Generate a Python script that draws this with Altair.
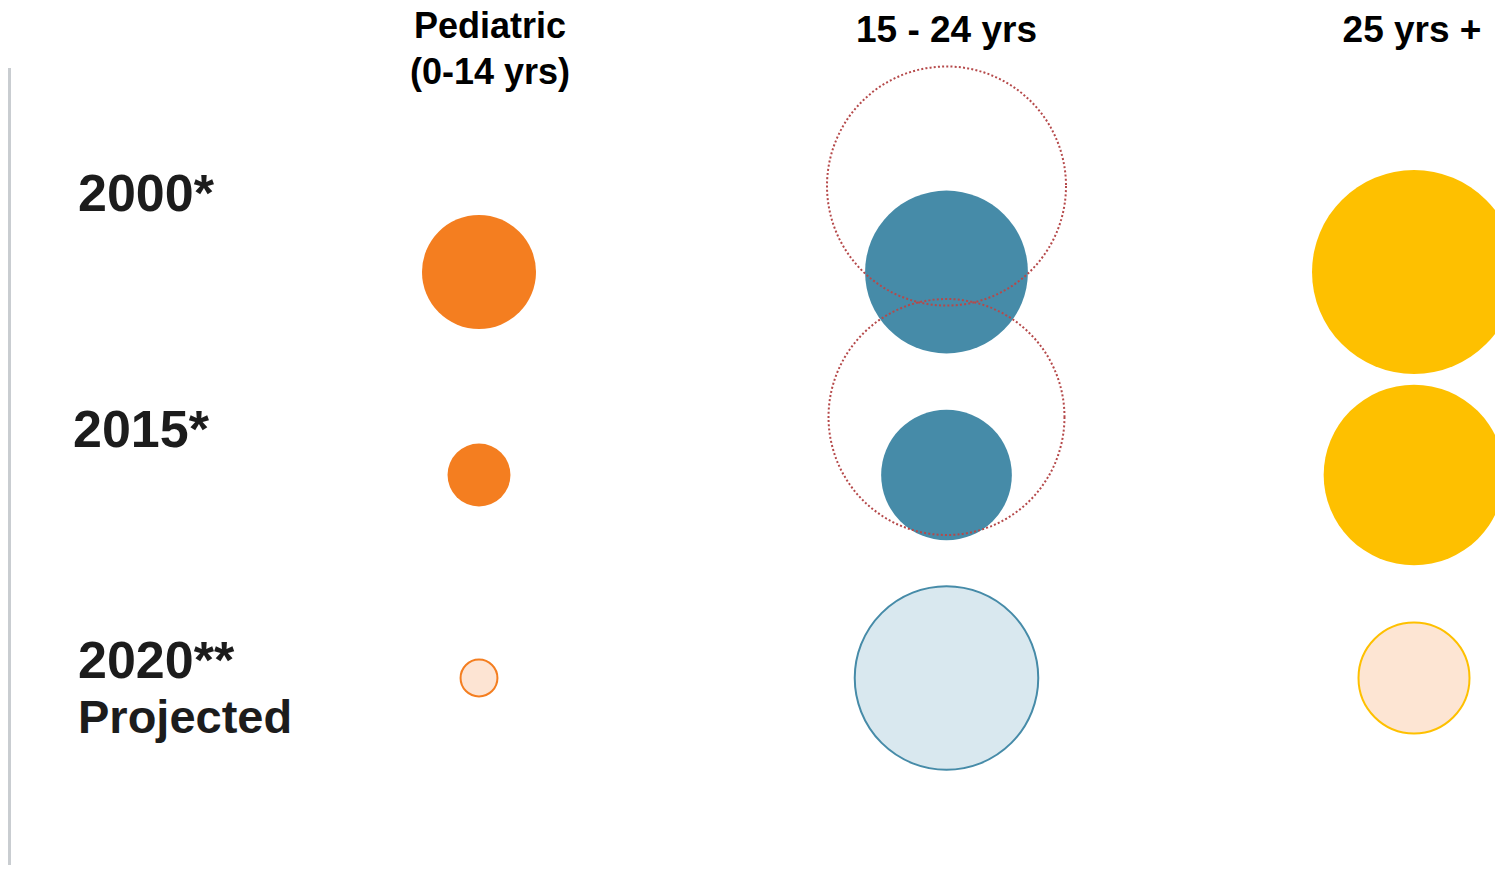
import altair as alt
import pandas as pd

# ---- data ----
groups = ["Pediatric", "15 - 24 yrs", "25 yrs +"]
header_text = ["Pediatric\n(0-14 yrs)", "15 - 24 yrs", "25 yrs +"]
years = ["2000*", "2015*", "2020**"]
pediatric = [325, 99, 34]
youth = [663, 427, 842]
adult = [1040, 816, 308]
youth_target_years = ["2000*", "2015*"]
youth_target = [1428, 1392]

rows = []
for g, vals in zip(groups, [pediatric, youth, adult]):
    for y, v in zip(years, vals):
        rows.append({"group": g, "year": y, "value": v})
df = pd.DataFrame(rows)

tgt = pd.DataFrame({"group": [groups[1]] * 2, "year": youth_target_years, "value": youth_target})
hdr = pd.DataFrame({"group": groups, "label": header_text})
lab = pd.DataFrame({"year": years, "label": years})

W, H = 1487, 857
FONT = "Liberation Sans"
strong = ["#F47E20", "#468BA8", "#FEC000"]
light = ["#FDE4D3", "#D9E8EF", "#FDE5D3"]

x_scale = alt.Scale(type="point", domain=groups, range=[471, 1406], padding=0)
y_scale = alt.Scale(type="point", domain=years, range=[264, 670], padding=0)
size_scale = alt.Scale(type="linear", domain=[0, 1000], range=[0, 40000], zero=True)

X = alt.X("group:N", scale=x_scale, axis=None)
Y = alt.Y("year:N", scale=y_scale, axis=None)
S = alt.Size("value:Q", scale=size_scale, legend=None)

actual = alt.Chart(df).transform_filter(alt.datum.year != "2020**").mark_circle(opacity=1).encode(
    x=X, y=Y, size=S,
    color=alt.Color("group:N", scale=alt.Scale(domain=groups, range=strong), legend=None),
)

projected = alt.Chart(df).transform_filter(alt.datum.year == "2020**").mark_circle(
    opacity=1, strokeWidth=2
).encode(
    x=X, y=Y, size=S,
    fill=alt.Fill("group:N", scale=alt.Scale(domain=groups, range=light), legend=None),
    stroke=alt.Stroke("group:N", scale=alt.Scale(domain=groups, range=strong), legend=None),
)

def target_layer(year, off):
    return alt.Chart(tgt).transform_filter(alt.datum.year == year).mark_point(
        shape="circle", filled=False, color="#B5494A", strokeWidth=2,
        strokeDash=[2, 2.2], opacity=1, yOffset=off
    ).encode(x=X, y=Y, size=S)

t2000 = target_layer("2000*", -86)
t2015 = target_layer("2015*", -58)

def header(g, dx, ybase, size):
    return alt.Chart(hdr).transform_filter(alt.datum.group == g).mark_text(
        font=FONT, fontWeight="bold", fontSize=size, color="#000000", align="center",
        baseline="alphabetic", lineBreak="\n", lineHeight=46, dx=dx
    ).encode(x=X, y=alt.value(ybase), text="label:N")

h1 = header(groups[0], 11, 29.5, 36)
h2 = header(groups[1], 0, 33.5, 37)
h3 = header(groups[2], -2, 33.5, 37)

def row_label(year, xpos, dy, size=52):
    return alt.Chart(lab).transform_filter(alt.datum.year == year).mark_text(
        font=FONT, fontWeight="bold", fontSize=size, color="#1c1c1c", align="left",
        baseline="alphabetic", dy=dy
    ).encode(x=alt.value(xpos), y=Y, text="label:N")

r1 = row_label("2000*", 70, -61)
r2 = row_label("2015*", 65, -28)
r3 = row_label("2020**", 70, 0)
proj = alt.Chart(lab).transform_filter(alt.datum.year == "2020**").mark_text(
    font=FONT, fontWeight="bold", fontSize=47, color="#1c1c1c", align="left",
    baseline="alphabetic", dy=55
).encode(x=alt.value(70), y=Y, text=alt.value("Projected"))

left_line = alt.Chart(lab).mark_rule(color="#C9CDD0", strokeWidth=2.5).encode(
    x=alt.value(1.5), y=alt.value(60), y2=alt.value(H)
)

chart = alt.layer(
    left_line, actual, projected, t2000, t2015, h1, h2, h3, r1, r2, r3, proj
).properties(
    width=W, height=H, padding=0,
    autosize=alt.AutoSizeParams(type="fit", contains="padding"),
).configure_view(stroke=None)

chart.save("out.html", embed_options={"renderer": "svg", "actions": False})
